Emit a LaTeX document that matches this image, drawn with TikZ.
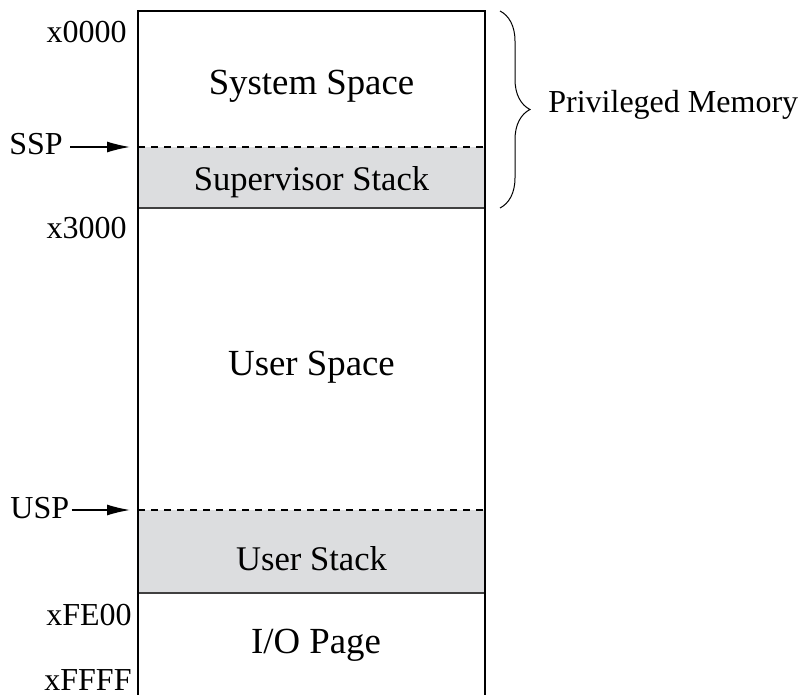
\documentclass[tikz,border=0pt]{standalone}
\usepackage{xcolor}
\usepackage{fontspec}
\setmainfont{Liberation Serif}
\usepackage{tikz}
\usetikzlibrary{arrows.meta, positioning, calc, decorations.pathreplacing}

\definecolor{stackgray}{RGB}{220,221,223}

\begin{document}
\begin{tikzpicture}[
  x=0.5pt, y=-0.5pt,
  region/.style={font=\fontsize{18.4}{20}\selectfont, anchor=base, inner sep=0pt},
  stacklabel/.style={font=\fontsize{17.3}{19}\selectfont, anchor=base, inner sep=0pt},
  addr/.style={font=\fontsize{16}{18}\selectfont, anchor=base east, inner sep=0pt},
  ptrlabel/.style={font=\fontsize{16}{18}\selectfont, anchor=base west},
  ptr/.style={-{Latex[length=11.5pt,width=5.5pt]}, line width=0.7pt},
  divider/.style={dashed, dash pattern=on 3.5pt off 3pt, line width=0.55pt},
  sep/.style={line width=1pt, black!75},
  memwall/.style={line width=0.75pt},
  brace/.style={decorate, decoration={brace, amplitude=15pt}, line width=0.5pt}
]
  \useasboundingbox (0,0) rectangle (798,695);

  % stack areas
  \fill[stackgray] (138,147) rectangle (485,208);
  \fill[stackgray] (138,510) rectangle (485,593);
  \draw[divider] (138,147) -- (485,147);
  \draw[divider] (138,510) -- (485,510);
  \draw[sep] (138,208) -- (485,208);
  \draw[sep] (138,593) -- (485,593);
  \draw[memwall] (138,695) -- (138,11) -- (485,11) -- (485,695);

  % regions
  \node[region] (sys) at (311.5,95) {System Space};
  \node[stacklabel] (supstack) at (311.5,191) {Supervisor Stack};
  \node[region] (user) at (311.5,375) {User Space};
  \node[stacklabel] (userstack) at (311.5,570) {User Stack};
  \node[region] (io) at (316,653) {I/O Page};

  % addresses
  \node[addr] (a0000) at (127,43) {x0000};
  \node[addr] (a3000) at (127,239) {x3000};
  \node[addr] (afe00) at (132,625) {xFE00};
  \node[addr] (affff) at (132,690) {xFFFF};

  % stack pointers
  \coordinate (ssptip) at (130,147);
  \coordinate (usptip) at (130,510);
  \node[ptrlabel, inner sep=3.5pt] (ssp) at (2,155) {SSP};
  \node[ptrlabel, inner sep=1pt] (usp) at (8,518) {USP};
  \draw[ptr] (ssp.east |- ssptip) -- (ssptip);
  \draw[ptr] (usp.east |- usptip) -- (usptip);

  % privileged part
  \coordinate (privtop) at (500,11);
  \coordinate (privbot) at (500,208);
  \draw[brace] (privtop) -- (privbot);
  \node[ptrlabel, inner sep=0pt] (priv) at (548,113) {Privileged Memory};
\end{tikzpicture}
\end{document}
